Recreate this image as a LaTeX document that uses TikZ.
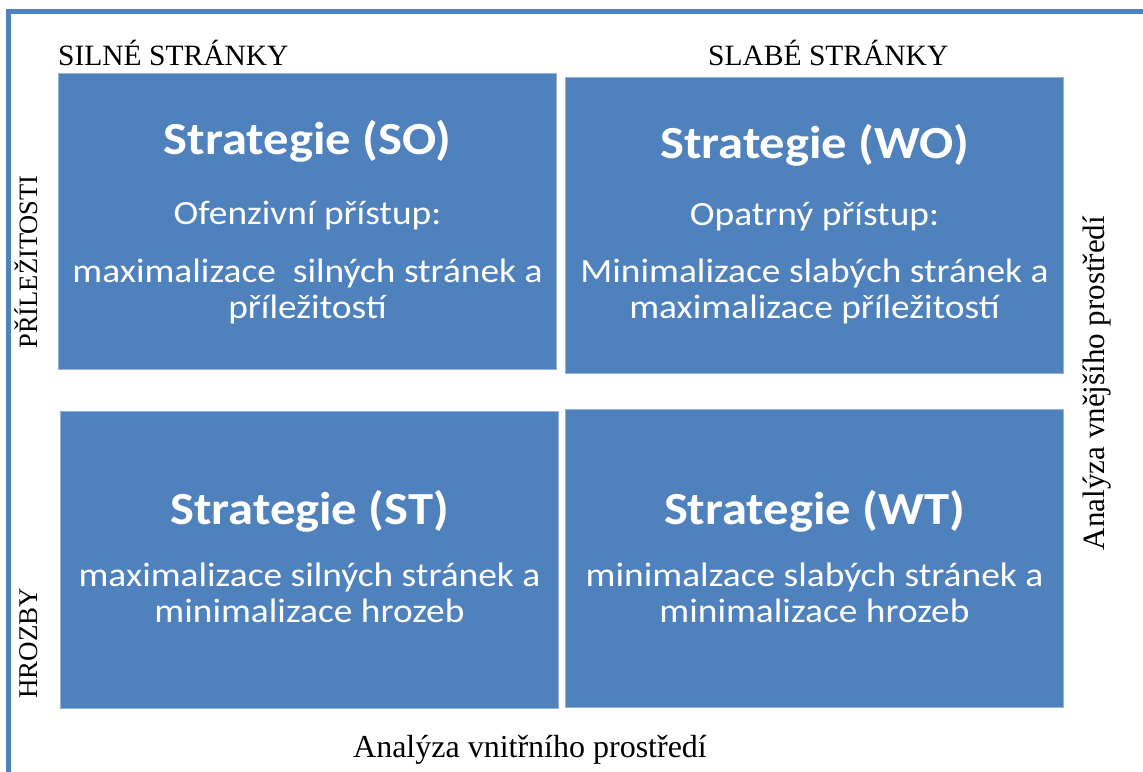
\documentclass[tikz,border=0pt]{standalone}
\usepackage{fontspec}
\setmainfont{Liberation Serif}
\newfontfamily\calibri[FakeStretch=1.1]{Carlito}
\usetikzlibrary{positioning}
\definecolor{swotblue}{HTML}{4F81BD}
\definecolor{swotedge}{HTML}{95B3D7}

\begin{document}
\begin{tikzpicture}[
		x=1pt, y=-1pt,
		quad/.style={draw=swotedge, fill=swotblue, line width=1pt, anchor=north west, inner sep=0pt},
		title/.style={anchor=base, text=white, inner sep=0pt, font=\calibri\bfseries\fontsize{46}{56}\selectfont},
		body/.style={anchor=base, text=white, inner sep=0pt, align=center, font=\calibri\fontsize{34}{36}\selectfont},
		side/.style={inner sep=0pt, font=\fontsize{#1}{#1}\selectfont},
		side/.default=28
		]
		\useasboundingbox (0,0) rectangle (1143,771);
		
		% Rámeček
		\draw[swotblue, line width=5pt] (8.5,790) -- (8.5,11.5) -- (1160,11.5);
		
		% Blok 1: SO
		\node[quad, minimum width=498pt, minimum height=296pt] (so) at (58,73) {};
		\node[title, yshift=-81pt] (so_title) at (so.north) {Strategie (SO)};
		\node[body, yshift=-151pt] (so_mode) at (so.north) {Ofenzivní přístup:};
		\node[body, yshift=-245pt] (so_text) at (so.north) {maximalizace\ \ silných stránek a\\příležitostí};
		
		% Blok 2: WO
		\node[quad, minimum width=498pt, minimum height=296pt] (wo) at (565,77) {};
		\node[title, yshift=-81pt] (wo_title) at (wo.north) {Strategie (WO)};
		\node[body, yshift=-148pt] (wo_mode) at (wo.north) {Opatrný přístup:};
		\node[body, yshift=-241pt] (wo_text) at (wo.north) {Minimalizace slabých stránek a\\maximalizace příležitostí};
		
		% Blok 3: ST
		\node[quad, minimum width=498pt, minimum height=297pt] (st) at (60,411) {};
		\node[title, yshift=-113pt] (st_title) at (st.north) {Strategie (ST)};
		\node[body, yshift=-211pt] (st_text) at (st.north) {maximalizace silných stránek a\\minimalizace hrozeb};
		
		% Blok 4: WT
		\node[quad, minimum width=498pt, minimum height=298pt] (wt) at (565,409) {};
		\node[title, yshift=-115pt] (wt_title) at (wt.north) {Strategie (WT)};
		\node[body, yshift=-213pt] (wt_text) at (wt.north) {minimalzace slabých stránek a\\minimalizace hrozeb};
		
		% Popisky os
		\node[side=29.5, anchor=base west] (strong) at (58,65) {SILNÉ STRÁNKY};
		\node[side=29.5, anchor=base west] (weak) at (708,65) {SLABÉ STRÁNKY};
		\node[side=26.5, anchor=base, rotate=90] (chances) at (37,262) {PŘÍLEŽITOSTI};
		\node[side=27, anchor=base, rotate=90] (threats) at (37,643) {HROZBY};
		\node[side=31, anchor=base, rotate=90] (outer) at (1104,383) {Analýza vnějšího prostředí};
		\node[side=32, anchor=base] (inner) at (530,757) {Analýza vnitřního prostředí};
		
	\end{tikzpicture}
\end{document}
